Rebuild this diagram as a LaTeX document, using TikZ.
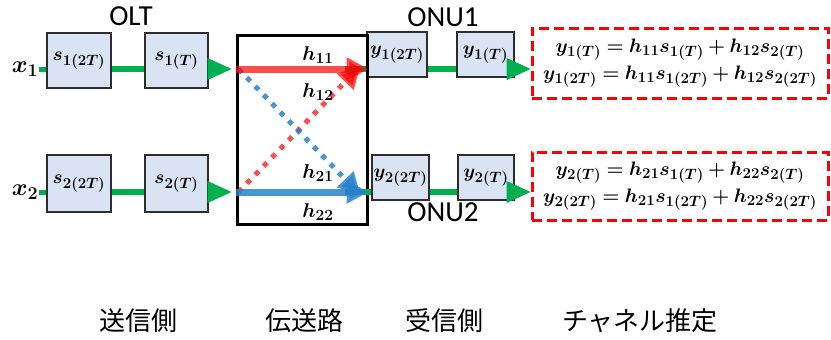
\RequirePackage{fix-cm}
\documentclass[tikz,border=0pt]{standalone}
\usepackage{fontspec}
\usepackage{bm}
\setmainfont{Carlito}
\newfontfamily\jpfont{Noto Sans CJK JP}
\usetikzlibrary{arrows.meta}
\DeclareMathSizes{19.5}{19.5}{15}{11}
\DeclareMathSizes{19}{19}{15}{11}
\DeclareMathSizes{20}{20}{15.5}{11}
\DeclareMathSizes{24}{24}{18}{13}
\definecolor{boxfill}{RGB}{218,227,243}
\definecolor{boxdraw}{RGB}{45,45,45}
\definecolor{mygreen}{RGB}{0,176,80}
\definecolor{myred}{RGB}{255,0,0}
\definecolor{myblue}{RGB}{40,130,205}
\tikzset{
  sbox/.style={draw=boxdraw, fill=boxfill, line width=1.5pt, inner sep=0pt, font=\fontsize{19}{22}\selectfont},
  garrow/.style={draw=mygreen, line width=6.5pt, -{Triangle[length=25pt,width=20pt]}},
  gline/.style={draw=mygreen, line width=6.5pt},
  redarr/.style={draw=myred, opacity=0.7, line width=7pt, -{Triangle[length=22pt,width=22pt]}},
  bluearr/.style={draw=myblue, opacity=0.85, line width=7pt, -{Triangle[length=22pt,width=22pt]}},
  reddot/.style={draw=myred, opacity=0.7, line width=5pt, dash pattern=on 5pt off 7pt, -{Triangle[length=22pt,width=22pt]}},
  bluedot/.style={draw=myblue, opacity=0.85, line width=5pt, dash pattern=on 5pt off 7pt, -{Triangle[length=22pt,width=22pt]}},
  eqbox/.style={draw=myred, line width=3pt, dash pattern=on 10pt off 5pt, fill=white},
  hlabel/.style={font=\fontsize{20}{22}\selectfont},
  title/.style={font=\fontsize{29}{30}\selectfont},
  jplabel/.style={font=\jpfont\fontsize{26}{28}\selectfont},
}
\begin{document}
\begin{tikzpicture}[x=1pt,y=-1pt]
\useasboundingbox (0,0) rectangle (831,340);
\coordinate (r1) at (0,69);
\coordinate (r2) at (0,192);

% sender boxes
\node[sbox, minimum width=64pt, minimum height=55pt] (s12T) at (79,60.5) {$\bm{s_{1(2T)}}$};
\node[sbox, minimum width=63pt, minimum height=55pt] (s1T) at (176.5,60.5) {$\bm{s_{1(T)}}$};
\node[sbox, minimum width=64pt, minimum height=57pt] (s22T) at (79,183.5) {$\bm{s_{2(2T)}}$};
\node[sbox, minimum width=63pt, minimum height=57pt] (s2T) at (176.5,183.5) {$\bm{s_{2(T)}}$};

% receiver boxes
\node[sbox, minimum width=60pt, minimum height=45pt] (y12T) at (397,54.5) {$\bm{y_{1(2T)}}$};
\node[sbox, minimum width=57pt, minimum height=45pt] (y1T) at (485.5,54.5) {$\bm{y_{1(T)}}$};
\node[sbox, minimum width=57pt, minimum height=45pt] (y22T) at (400.5,177.5) {$\bm{y_{2(2T)}}$};
\node[sbox, minimum width=56pt, minimum height=45pt] (y2T) at (486,177.5) {$\bm{y_{2(T)}}$};

% channel
\node[draw=black, line width=3pt, minimum width=130pt, minimum height=189pt, inner sep=0pt] (chan) at (302,129.5) {};

% equation boxes
\node[eqbox, minimum width=296pt, minimum height=70pt, align=center, font=\fontsize{19.5}{27}\selectfont] (eq1) at (680,63)
  {$\bm{y_{1(T)}=h_{11}s_{1(T)}+h_{12}s_{2(T)}}$\\ $\bm{y_{1(2T)}=h_{11}s_{1(2T)}+h_{12}s_{2(2T)}}$};
\node[eqbox, minimum width=296pt, minimum height=68pt, align=center, font=\fontsize{19.5}{27}\selectfont] (eq2) at (680,186)
  {$\bm{y_{2(T)}=h_{21}s_{1(T)}+h_{22}s_{2(T)}}$\\ $\bm{y_{2(2T)}=h_{21}s_{1(2T)}+h_{22}s_{2(2T)}}$};

% inputs
\node[font=\fontsize{24}{28}\selectfont, inner sep=1pt] (x1) at (25,69) {$\bm{x_1}$};
\node[font=\fontsize{24}{28}\selectfont, inner sep=1pt] (x2) at (25,192) {$\bm{x_2}$};
\draw[gline, line width=5pt] (x1.east |- r1) -- (s12T.west |- r1);
\draw[gline, line width=5pt] (x2.east |- r2) -- (s22T.west |- r2);

% sender green links
\draw[gline] (s12T.east |- r1) -- (s1T.west |- r1);
\draw[gline] (s22T.east |- r2) -- (s2T.west |- r2);
\draw[garrow] (s1T.east |- r1) -- ([xshift=-3pt]chan.west |- r1);
\draw[garrow] (s2T.east |- r2) -- ([xshift=-3pt]chan.west |- r2);

% green stubs into ONU boxes
\draw[gline] ([xshift=-24pt]chan.east |- r1) -- (y12T.west |- r1);
\draw[gline] ([xshift=-24pt]chan.east |- r2) -- (y22T.west |- r2);

% channel paths
\coordinate (c1w) at ([xshift=3pt]chan.west |- r1);
\coordinate (c2w) at ([xshift=3pt]chan.west |- r2);
\coordinate (c1e) at ([xshift=-6pt]chan.east |- r1);
\coordinate (c2e) at ([xshift=-6pt]chan.east |- r2);
\draw[reddot] (c2w) -- ([xshift=-2pt,yshift=3pt]c1e);
\draw[bluedot] (c1w) -- ([xshift=-2pt,yshift=-3pt]c2e);
\draw[redarr] ([xshift=-3pt]c1w) -- ([xshift=6pt]c1e);
\draw[bluearr] ([xshift=-3pt]c2w) -- ([xshift=6pt]c2e);

% channel labels
\node[hlabel] (h11) at (318,55) {$\bm{h_{11}}$};
\node[hlabel] (h12) at (318,92) {$\bm{h_{12}}$};
\node[hlabel] (h21) at (318,173) {$\bm{h_{21}}$};
\node[hlabel] (h22) at (318,212) {$\bm{h_{22}}$};

% receiver green links
\draw[gline] (y12T.east |- r1) -- (y1T.west |- r1);
\draw[gline] (y22T.east |- r2) -- (y2T.west |- r2);
\draw[garrow, shorten >=-1pt] (y1T.east |- r1) -- (eq1.west |- r1);
\draw[garrow, shorten >=-1pt] (y2T.east |- r2) -- (eq2.west |- r2);

% titles
\node[title] (olt) at (131,16) {OLT};
\node[title] (onu1) at (443,17) {ONU1};
\node[title] (onu2) at (443,212) {ONU2};

% bottom labels
\node[jplabel] (lab1) at (138,321) {送信側};
\node[jplabel] (lab2) at (304,321) {伝送路};
\node[jplabel] (lab3) at (444,321) {受信側};
\node[jplabel] (lab4) at (640,321) {チャネル推定};
\end{tikzpicture}
\end{document}
